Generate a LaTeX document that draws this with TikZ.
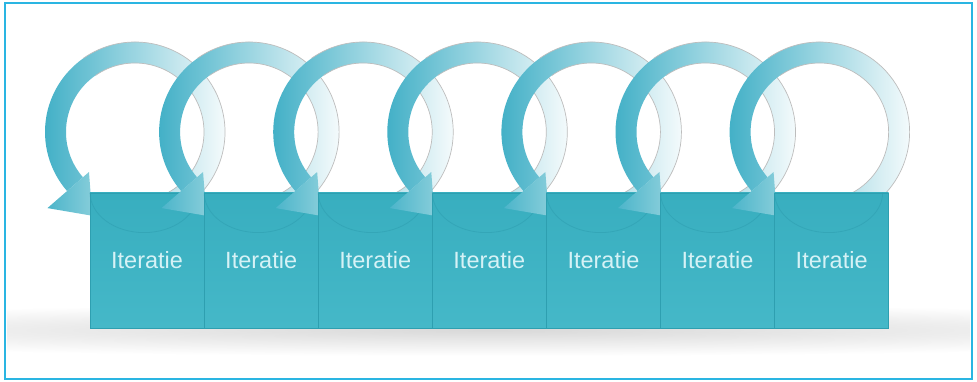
\documentclass[tikz,border=0pt]{standalone}
\usepackage{fontspec}
\setmainfont{Liberation Sans}
\definecolor{frameblue}{HTML}{2AB5E2}
\definecolor{ringteal}{HTML}{40AFC6}
\definecolor{ringgray}{HTML}{BDBDBD}
\definecolor{headL}{HTML}{4CB5CA}
\definecolor{headR}{HTML}{86CDDA}
\definecolor{boxtop}{HTML}{38AEBF}
\definecolor{boxbot}{HTML}{45B8C8}
\definecolor{boxline}{HTML}{2E9FB0}
\definecolor{arcline}{HTML}{2F9FB1}
\definecolor{textcol}{HTML}{D6F2F6}
\tikzset{
  iterbox/.style={rectangle, minimum width=114.1pt, minimum height=135pt, inner sep=0pt,
    top color=boxtop, bottom color=boxbot, draw=boxline, line width=0.8pt,
    text=textcol, font=\fontsize{23.5}{27}\selectfont},
  ringshade/.style={left color=ringteal, right color=white},
  ringedge/.style={draw=ringgray, line width=0.7pt},
  headshade/.style={left color=headL, right color=headR},
  innerarc/.style={draw=arcline, line width=0.8pt, opacity=0.6}
}
\begin{document}
\begin{tikzpicture}[x=1pt,y=1pt]
\useasboundingbox (0,0) rectangle (977,382);
\fill[white] (0,0) rectangle (977,382);
% soft shadow under the row of boxes
\begin{scope}
  \clip (7,5) rectangle (970,377);
  \shade[inner color=black!15, outer color=white] (490,52) ellipse [x radius=900, y radius=26];
\end{scope}
\foreach \k in {0,...,6} {
  \pgfmathsetmacro\bx{90+114.1*\k}
  \pgfmathsetmacro\cx{\bx+45}
  \pgfmathsetmacro\bc{\bx+57.05}
  \begin{scope}[shift={(\cx,250)}]
    \shade[ringshade] (-70:90) arc[start angle=-70, end angle=221, radius=90]
      -- (221:69) arc[start angle=221, end angle=-70, radius=69] -- cycle;
    \draw[ringedge] (-70:90) arc[start angle=-70, end angle=125, radius=90];
    \draw[ringedge] (-70:69) arc[start angle=-70, end angle=125, radius=69];
    \shade[headshade] (221:116) -- (243:94) -- (221:61) -- cycle;
  \end{scope}
  \node[iterbox] (b\k) at (\bc,121.5) {Iteratie};
  \draw[innerarc] ([xshift=-57pt]b\k.north) arc[start angle=180, end angle=360, x radius=54, y radius=40];
}
% frame
\draw[frameblue, line width=1.3pt] (5,3) rectangle (972,379);
\end{tikzpicture}
\end{document}
